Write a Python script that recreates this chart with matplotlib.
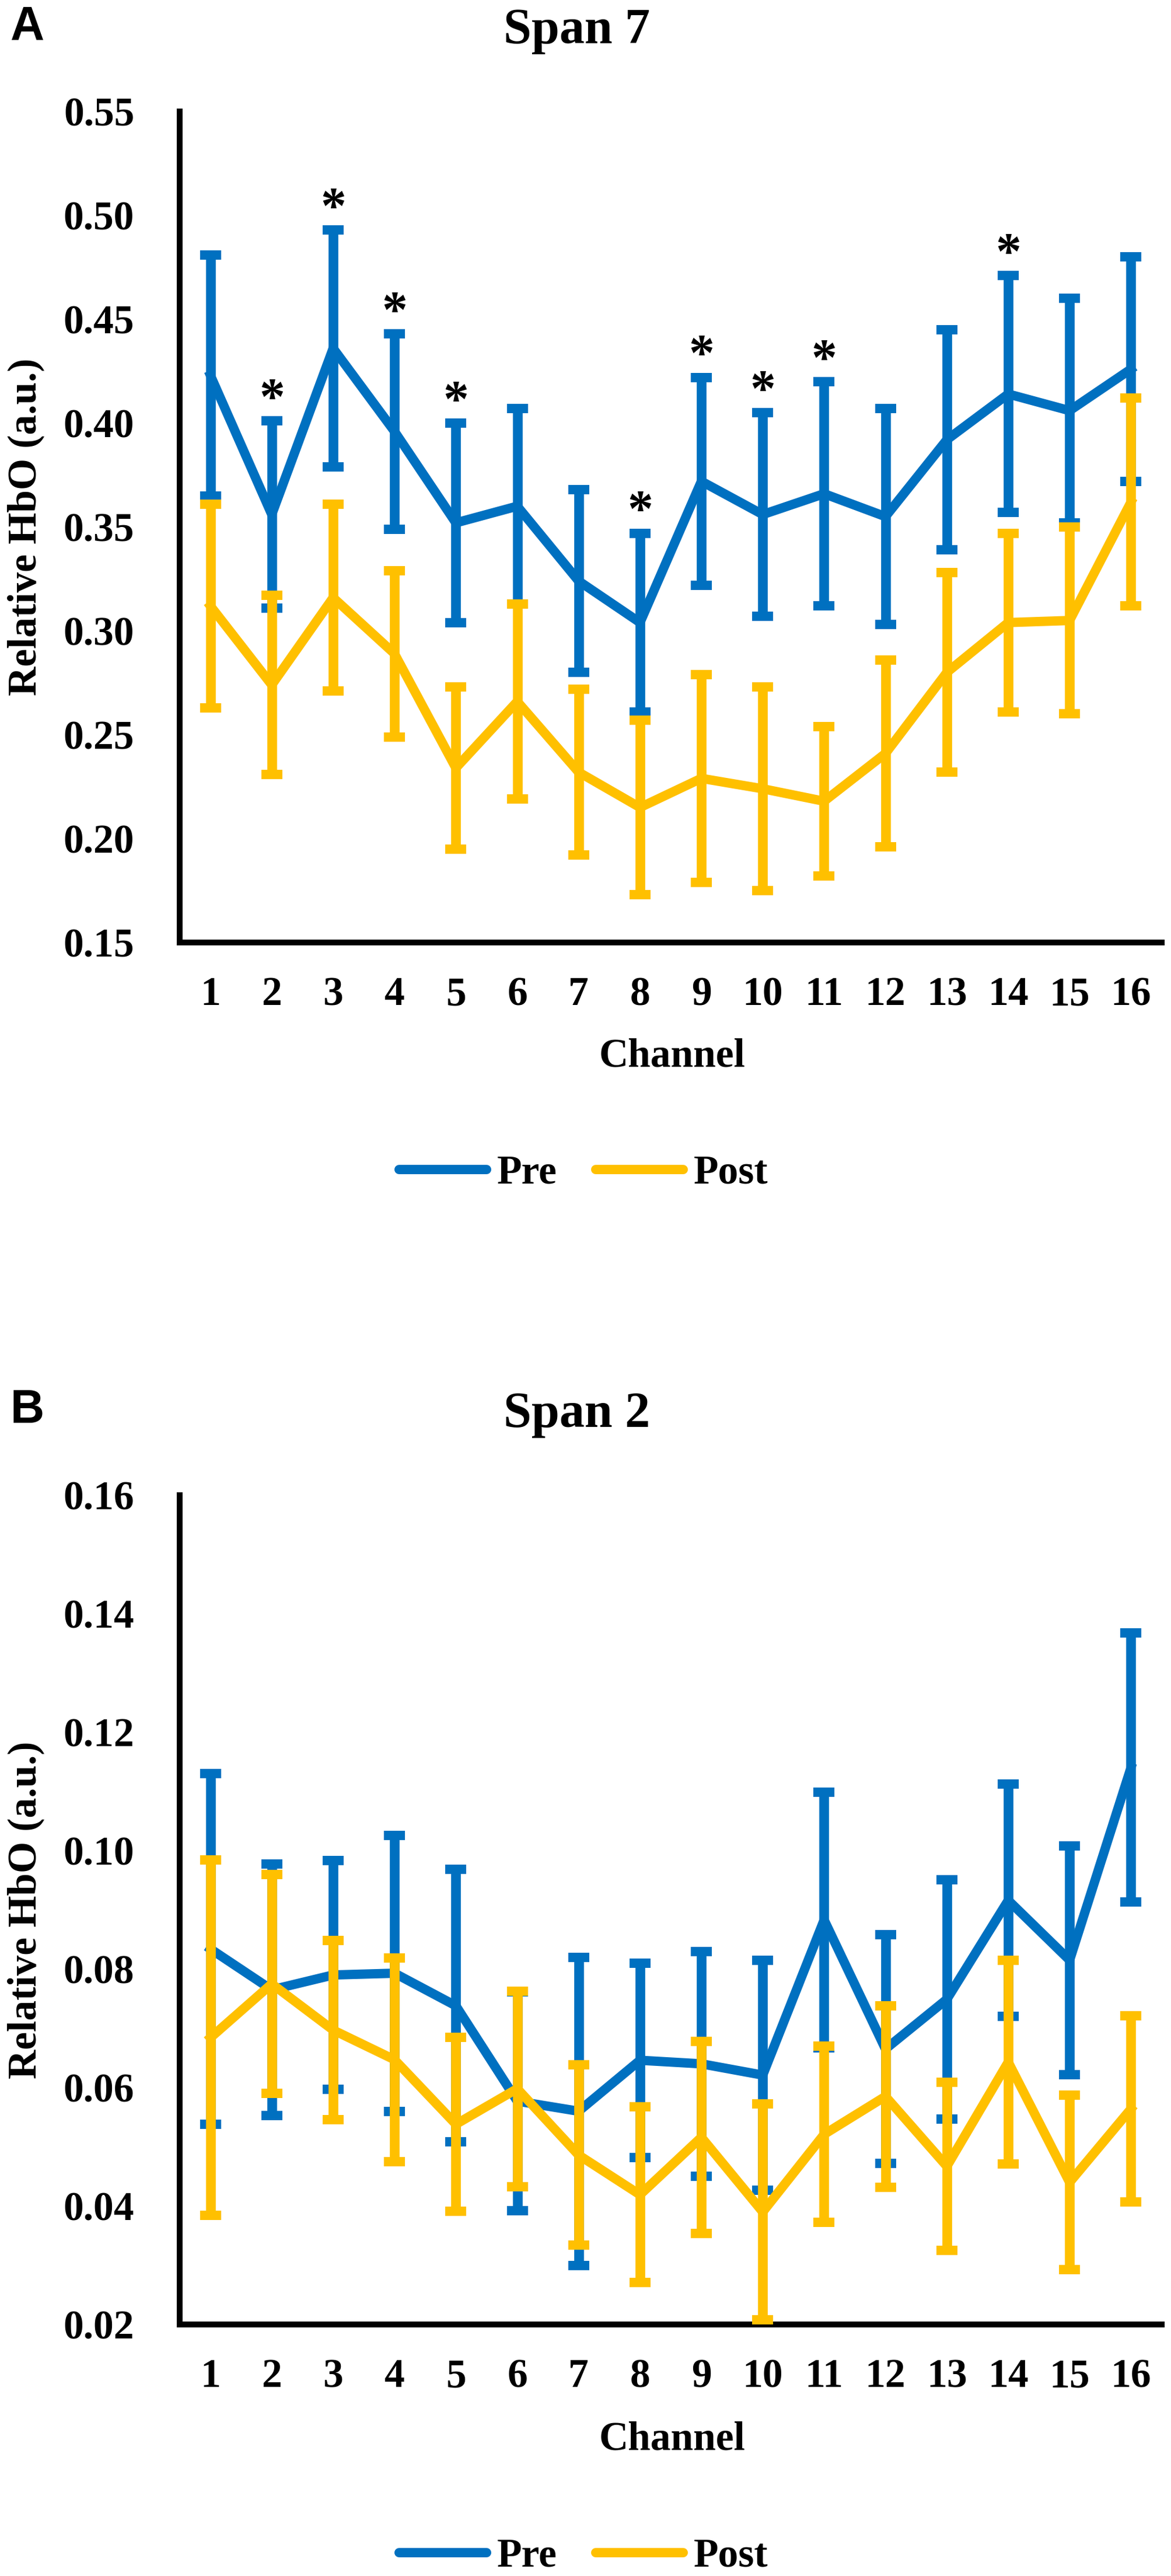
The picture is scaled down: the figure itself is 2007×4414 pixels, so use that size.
import numpy as np
import matplotlib
matplotlib.use('Agg')
import matplotlib.pyplot as plt
from matplotlib.lines import Line2D

# channel axis
channels = np.arange(1, 17)
tick_labels = [str(c) for c in channels]

# Span 7 (panel A)
span7_pre = [0.423, 0.356, 0.436, 0.396, 0.352, 0.360, 0.324, 0.304,
             0.372, 0.356, 0.366, 0.355, 0.392, 0.414, 0.406, 0.426]
span7_pre_err = [0.058, 0.045, 0.057, 0.047, 0.048, 0.047, 0.044, 0.043,
                 0.050, 0.049, 0.054, 0.052, 0.053, 0.057, 0.054, 0.054]
span7_post = [0.312, 0.274, 0.316, 0.289, 0.234, 0.266, 0.232, 0.215,
              0.229, 0.224, 0.218, 0.241, 0.280, 0.304, 0.305, 0.362]
span7_post_err = [0.049, 0.043, 0.045, 0.040, 0.039, 0.047, 0.040, 0.042,
                  0.050, 0.049, 0.036, 0.045, 0.048, 0.043, 0.045, 0.050]
span7_sig = [2, 3, 4, 5, 8, 9, 10, 11, 14]
span7_yticks = [0.15, 0.20, 0.25, 0.30, 0.35, 0.40, 0.45, 0.50, 0.55]

# Span 2 (panel B)
span2_pre = [0.0834, 0.0765, 0.0790, 0.0793, 0.0738, 0.0577, 0.0560, 0.0646,
             0.0640, 0.0621, 0.0883, 0.0665, 0.0749, 0.0916, 0.0815, 0.1140]
span2_pre_err = [0.0296, 0.0212, 0.0193, 0.0233, 0.0230, 0.0185, 0.0260, 0.0164,
                 0.0190, 0.0194, 0.0216, 0.0193, 0.0202, 0.0196, 0.0193, 0.0227]
span2_post = [0.0684, 0.0775, 0.0697, 0.0647, 0.0538, 0.0598, 0.0486, 0.0419,
              0.0516, 0.0390, 0.0521, 0.0585, 0.0467, 0.0643, 0.0440, 0.0564]
span2_post_err = [0.0300, 0.0185, 0.0151, 0.0172, 0.0147, 0.0165, 0.0152, 0.0148,
                  0.0162, 0.0182, 0.0149, 0.0153, 0.0142, 0.0172, 0.0147, 0.0157]
span2_sig = []
span2_yticks = [0.02, 0.04, 0.06, 0.08, 0.10, 0.12, 0.14, 0.16]

PRE_COLOR = '#0070C0'
POST_COLOR = '#FFC000'

plt.rcParams['font.family'] = ['Liberation Serif', 'DejaVu Serif']
plt.rcParams['font.weight'] = 'bold'

W, H = 2007, 4414
fig = plt.figure(figsize=(W / 100, H / 100), dpi=100)


def fx(px):
    return px / W


def fy(px):
    return 1 - px / H


def panel(letter, title, top_px, bottom_px, pre, pre_err, post, post_err,
          yticks, sig, letter_base, title_base, chan_base, legend_y):
    ax = fig.add_axes([fx(308), fy(bottom_px), fx(1991) - fx(308),
                       fy(top_px) - fy(bottom_px)])

    ax.errorbar(channels, pre, yerr=pre_err, color=PRE_COLOR, lw=11.5,
                elinewidth=12, capsize=13, capthick=11.5, zorder=2,
                clip_on=False, solid_joinstyle='round')
    ax.errorbar(channels, post, yerr=post_err, color=POST_COLOR, lw=11.5,
                elinewidth=12, capsize=13, capthick=11.5, zorder=3,
                clip_on=False, solid_joinstyle='round')

    for c in sig:
        i = c - 1
        ax.annotate('*', xy=(c, pre[i] + pre_err[i]), xytext=(0, 25),
                    textcoords='offset points', ha='center', va='center',
                    fontsize=63, zorder=5)

    ax.set_xlim(0.5, 16.5)
    ax.set_ylim(yticks[0], yticks[-1])
    ax.set_xticks(channels, tick_labels)
    ax.set_yticks(yticks, [f'{v:.2f}' for v in yticks])
    for s in ['top', 'right']:
        ax.spines[s].set_visible(False)
    for s in ['left', 'bottom']:
        ax.spines[s].set_linewidth(7.2)
        ax.spines[s].set_color('black')
    ax.tick_params(axis='both', length=0, labelsize=50)
    ax.tick_params(axis='y', pad=56)
    ax.tick_params(axis='x', pad=42)

    fig.text(fx(18), fy(letter_base), letter, family='Liberation Sans',
             weight='bold', fontsize=58, ha='left', va='baseline')
    fig.text(fx(989), fy(title_base), title, fontsize=62, ha='center',
             va='baseline')
    fig.text(fx(44), fy((top_px + bottom_px) / 2), 'Relative HbO (a.u.)',
             rotation=90, fontsize=50, ha='center', va='center')
    fig.text(fx(1152), fy(chan_base), 'Channel', fontsize=50, ha='center',
             va='baseline')

    handles = [Line2D([], [], color=PRE_COLOR, lw=11.5, solid_capstyle='round'),
               Line2D([], [], color=POST_COLOR, lw=11.5, solid_capstyle='round')]
    ax.legend(handles, ['Pre', 'Post'], loc='center',
              bbox_to_anchor=(fx(1000), fy(legend_y)),
              bbox_transform=fig.transFigure, ncol=2, frameon=False,
              fontsize=50, handlelength=2.16, handletextpad=0.26,
              columnspacing=0.95)
    return ax


panel('A', 'Span 7', 191, 1615, span7_pre, span7_pre_err, span7_post,
      span7_post_err, span7_yticks, span7_sig, 68, 74, 1827, 2011)
panel('B', 'Span 2', 2562, 3983, span2_pre, span2_pre_err, span2_post,
      span2_post_err, span2_yticks, span2_sig, 2438, 2445, 4197, 4381)

fig.savefig('out.png', dpi=100)
